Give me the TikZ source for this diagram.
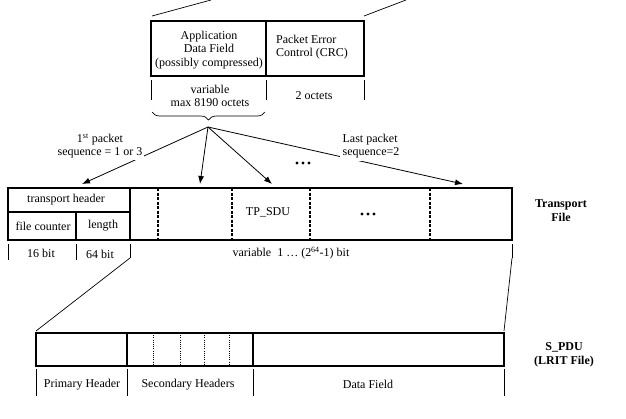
\documentclass[tikz,border=0pt]{standalone}
\usepackage{fontspec}
\setmainfont{Liberation Serif}
\usetikzlibrary{arrows.meta,decorations.pathreplacing}
\begin{document}
\begin{tikzpicture}[x=1pt,y=-1pt,
  font=\fontsize{12}{13.5}\selectfont,
  box/.style={line width=2pt},
  tickline/.style={line width=0.9pt},
  thinline/.style={line width=0.7pt},
  dashv/.style={line width=1.4pt, dash pattern=on 3pt off 1.5pt},
  dotv/.style={line width=0.8pt, dash pattern=on 1pt off 1.2pt},
  arr/.style={line width=0.8pt, -{Latex[length=8pt,width=6pt]}},
  lbl/.style={inner sep=1pt, align=center},
  boldlbl/.style={inner sep=1pt, align=center, font=\fontsize{12}{14}\selectfont\bfseries},
  dot/.style={circle, fill=black, inner sep=0pt, minimum size=3.4pt},
]
\useasboundingbox (0,0) rectangle (626,418);

% ---------- top packet ----------
\coordinate (tl) at (151,21);
\coordinate (tr) at (364,21);
\draw[box] (151,21) rectangle (364,76);
\draw[box] (266,21) -- (266,76);
\coordinate (ztl) at (152,16);
\coordinate (ztlend) at (211,0);
\coordinate (ztr) at (364,16);
\coordinate (ztrend) at (406,0);
\draw[thinline] (ztl) -- (ztlend);
\draw[thinline] (ztr) -- (ztrend);
\node[lbl] (adf) at (209,50) {Application\\Data Field\\(possibly compressed)};
\node[lbl, align=left] (pec) at (312,47) {Packet Error\\Control (CRC)};
\draw[tickline] (151,80) -- (151,100);
\draw[tickline] (266,80) -- (266,100);
\draw[tickline] (364,80) -- (364,100);
\node[lbl] (var) at (210,96) {variable\\max 8190 octets};
\node[lbl] (oct) at (314,96) {2 octets};
\draw[thinline, decorate, decoration={brace, mirror, amplitude=8pt}] (152,112) -- (265,112);

% ---------- arrows ----------
\coordinate (apex) at (208,127);
\coordinate (t1) at (82,184);
\coordinate (t2) at (200,184);
\coordinate (t3) at (272,184);
\coordinate (t4) at (463,184);
\draw[arr] (apex) -- (t1);
\draw[arr] (apex) -- (t2);
\draw[arr] (apex) -- (t3);
\draw[arr] (apex) -- (t4);
\node[lbl, fill=white, inner sep=2pt] (first) at (100,146) {1\textsuperscript{st} packet\\sequence = 1 or 3};
\node[lbl, fill=white, align=left, inner sep=3pt] (last) at (371,146) {Last packet\\sequence=2};
\node[dot] (d1) at (297,163) {};
\node[dot] (d2) at (303,163) {};
\node[dot] (d3) at (309,163) {};

% ---------- transport file ----------
\draw[box] (8,188) rectangle (512,240);
\draw[box] (130,188) -- (130,240);
\draw[box] (8,212) -- (130,212);
\draw[box] (76,212) -- (76,240);
\draw[dashv] (158,188) -- (158,240);
\draw[dashv] (232,188) -- (232,240);
\draw[dashv] (310,188) -- (310,240);
\draw[dashv] (430,188) -- (430,240);
\node[lbl] (th) at (66,200) {transport header};
\node[lbl] (fc) at (43,226) {file counter};
\node[lbl] (len) at (103,226) {length};
\node[lbl] (tpsdu) at (268,212) {TP\_SDU};
\node[dot] (e1) at (362,214) {};
\node[dot] (e2) at (368,214) {};
\node[dot] (e3) at (374,214) {};
\node[boldlbl] (tf) at (561,211) {Transport\\File};

\draw[tickline] (8,244) -- (8,260);
\draw[tickline] (76,244) -- (76,260);
\draw[tickline] (130,244) -- (130,258);
\draw[tickline] (512,244) -- (512,258);
\node[lbl] (b16) at (41,253) {16 bit};
\node[lbl] (b64) at (100,254) {64 bit};
\node[lbl] (varb) at (291,253) {variable\ \ 1 \dots\ (2\textsuperscript{64}-1) bit};

% ---------- zoom lines ----------
\coordinate (zl1) at (130,258);
\coordinate (zl2) at (36,331);
\coordinate (zr1) at (512,258);
\coordinate (zr2) at (504,331);
\draw[thinline] (zl1) -- (zl2);
\draw[thinline] (zr1) -- (zr2);

% ---------- S_PDU ----------
\draw[box] (36,333) rectangle (504,366);
\draw[box] (127,333) -- (127,366);
\draw[box] (253,333) -- (253,366);
\draw[dotv] (153,333) -- (153,366);
\draw[dotv] (180,333) -- (180,366);
\draw[dotv] (204,333) -- (204,366);
\draw[dotv] (229,333) -- (229,366);
\draw[tickline] (36,369) -- (36,396);
\draw[tickline] (127,369) -- (127,396);
\draw[tickline] (253,369) -- (253,396);
\draw[tickline] (504,369) -- (504,396);
\node[lbl] (ph) at (82,385) {Primary Header};
\node[lbl] (sh) at (188,385) {Secondary Headers};
\node[lbl] (df) at (368,384) {Data Field};
\node[boldlbl] (spdu) at (564,355) {S\_PDU\\(LRIT File)};
\end{tikzpicture}
\end{document}
